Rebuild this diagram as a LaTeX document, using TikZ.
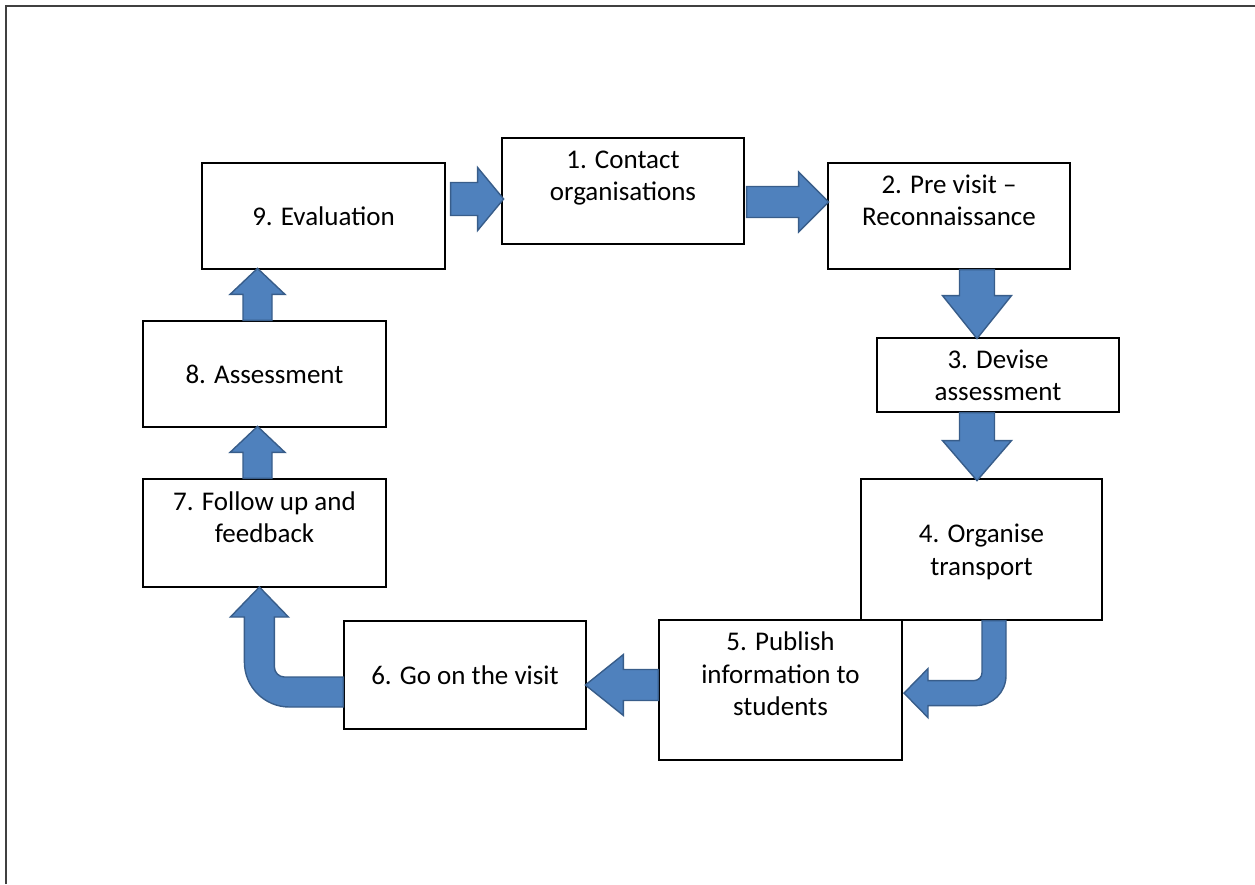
\documentclass[tikz,border=0pt]{standalone}
\usepackage{fontspec}
\setmainfont{Carlito}
\usetikzlibrary{calc}
\definecolor{arrfill}{HTML}{4F81BD}
\definecolor{arrdraw}{HTML}{385D8A}
\definecolor{framec}{HTML}{404040}
\newcommand\topstrut{\rule{0pt}{28.75pt}}
\tikzset{
  box/.style={draw=black, line width=1.2pt, fill=white, inner sep=0pt, align=center,
    font=\fontsize{27}{32.5}\selectfont},
  blk/.style={fill=arrfill, draw=arrdraw, line width=1.4pt, line join=miter},
}
% #1 start point, #2 angle, #3 length, #4 shaft half-width, #5 head half-width, #6 head length
\newcommand\blockarr[6]{%
  \begin{scope}[shift={#1}, rotate=#2]
    \draw[blk] (0,-#4) -- ({#3-#6},-#4) -- ({#3-#6},-#5) -- (#3,0) -- ({#3-#6},#5) -- ({#3-#6},#4) -- (0,#4) -- cycle;
  \end{scope}}
\begin{document}
\begin{tikzpicture}[x=1pt,y=-1pt]
\useasboundingbox (0,0) rectangle (1255,884);
\draw[framec, line width=1.5pt] (6,884) -- (6,6) -- (1255,6);

\node[box, minimum width=243pt, minimum height=106pt] (n9) at (323.5,216) {\topstrut\strut 9. Evaluation};
\node[box, minimum width=242pt, minimum height=106pt] (n1) at (623,191) {\topstrut\strut 1. Contact\\\strut organisations\\\strut};
\node[box, minimum width=242pt, minimum height=106pt] (n2) at (949,216) {\topstrut\strut 2. Pre visit –\\\strut Reconnaissance\\\strut};
\node[box, minimum width=242pt, minimum height=74pt] (n3) at (998,375) {\topstrut\strut 3. Devise\\\strut assessment};
\node[box, minimum width=241pt, minimum height=141pt] (n4) at (981.5,549.5) {\topstrut\strut 4. Organise\\\strut transport};
\node[box, minimum width=243pt, minimum height=140pt] (n5) at (780.5,690) {\topstrut\strut 5. Publish\\\strut information to\\\strut students\\\strut};
\node[box, minimum width=242pt, minimum height=108pt] (n6) at (465,675) {\topstrut\strut 6. Go on the visit};
\node[box, minimum width=243pt, minimum height=108pt] (n7) at (264.5,533) {\topstrut\strut 7. Follow up and\\\strut feedback\\\strut};
\node[box, minimum width=243pt, minimum height=106pt] (n8) at (264.5,374) {\topstrut\strut 8. Assessment};

% straight block arrows
\blockarr{($(n9.east)+(5,-17)$)}{0}{53}{16.5}{31.5}{26}
\blockarr{($(n1.east)+(2,11)$)}{0}{82}{15.5}{30}{30}
\blockarr{($(n2.south)+(28,0)$)}{-90}{69}{17.5}{34.5}{43}
\blockarr{($(n3.south)+(-21,0)$)}{-90}{68}{17.5}{34.5}{40}
\blockarr{($(n5.west)+(0,-5)$)}{180}{73}{15.5}{30.5}{38}
\blockarr{($(n7.north)+(-7,0)$)}{90}{52}{14.5}{27.5}{26}
\blockarr{($(n8.north)+(-7,0)$)}{90}{52}{14.5}{27.5}{26}

% bent arrow 4 -> 5
\begin{scope}[shift={(n4.south)}]
  \draw[blk] (0.5,0) -- (0.5,52) arc[start angle=0, end angle=90, radius=8]
    -- (-53.5,60) -- (-53.5,48) -- (-77.5,72.5) -- (-53.5,97) -- (-53.5,85) -- (-5.5,85)
    arc[start angle=90, end angle=0, radius=30] -- (24.5,0) -- cycle;
\end{scope}
% bent arrow 6 -> 7
\begin{scope}[shift={(n6.west)}]
  \draw[blk] (0,2) -- (-59,2) arc[start angle=90, end angle=180, radius=10]
    -- (-69,-58) -- (-55,-58) -- (-84,-88) -- (-113,-58) -- (-99,-58) -- (-99,-13)
    arc[start angle=180, end angle=90, radius=45] -- (0,32) -- cycle;
\end{scope}
\end{tikzpicture}
\end{document}
